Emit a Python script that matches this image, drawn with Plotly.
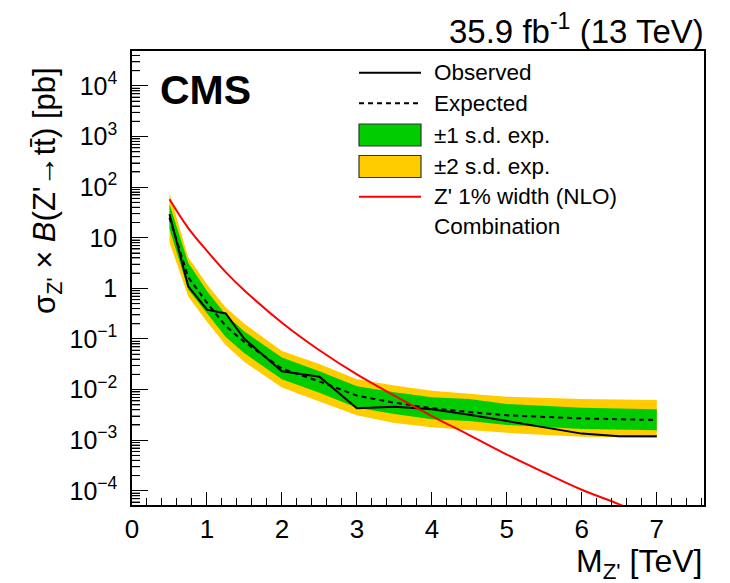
import math
import plotly.graph_objects as go

# ---------------- data ----------------
mass = [0.5, 0.75, 1.0, 1.25, 1.5, 2.0, 2.5, 3.0, 3.5, 4.0, 4.5, 5.0, 6.0, 6.5, 7.0]

observed = [29, 1.1, 0.38, 0.32, 0.10, 0.023, 0.018, 0.0043, 0.0046, 0.0041,
            0.0032, 0.0024, 0.00135, 0.0012, 0.0012]
expected = [25, 1.66, 0.52, 0.18, 0.087, 0.026, 0.0145, 0.0076, 0.0055, 0.0043,
            0.0036, 0.0031, 0.0027, 0.0026, 0.0025]
one_sd_lo = [15, 0.95, 0.32, 0.11, 0.052, 0.016, 0.0087, 0.0044, 0.0033, 0.0026,
             0.0024, 0.0020, 0.00166, 0.00162, 0.00158]
one_sd_hi = [46, 3.2, 0.89, 0.30, 0.14, 0.043, 0.023, 0.0117, 0.0089, 0.0071,
             0.0065, 0.0052, 0.0044, 0.0042, 0.0041]
two_sd_lo = [8.1, 0.69, 0.22, 0.076, 0.035, 0.011, 0.0058, 0.0031, 0.0022, 0.0018,
             0.0016, 0.0014, 0.00117, 0.00112, 0.0011]
two_sd_hi = [76, 4.1, 1.2, 0.42, 0.20, 0.058, 0.032, 0.016, 0.012, 0.0095,
             0.0083, 0.0072, 0.0065, 0.0063, 0.0062]

theory_mass = [0.5, 0.75, 1.0, 1.25, 1.5, 2.0, 2.5, 3.0, 3.5, 4.0, 4.5, 5.0, 5.5, 6.0, 6.5, 7.0]
theory_xsec = [57.5, 15.5, 5.5, 2.1, 0.91, 0.21, 0.060, 0.020, 0.0076, 0.0030,
               0.00126, 0.00052, 0.00023, 0.000105, 0.000054, 0.000025]

x_ticks = [0, 1, 2, 3, 4, 5, 6, 7]
y_tickvals = [1e-4, 1e-3, 1e-2, 1e-1, 1, 10, 1e2, 1e3, 1e4]
y_ticktext = ["10<sup>\u22124</sup>", "10<sup>\u22123</sup>", "10<sup>\u22122</sup>",
              "10<sup>\u22121</sup>", "1", "10", "10<sup>2</sup>", "10<sup>3</sup>",
              "10<sup>4</sup>"]
y_decades = [-5, -4, -3, -2, -1, 0, 1, 2, 3, 4]
minor_digits = [2, 3, 4, 5, 6, 7, 8, 9]

legend_labels = ["Observed", "Expected", "\u00b11 s.d. exp.", "\u00b12 s.d. exp.",
                 "Z' 1% width (NLO)", "Combination"]

GREEN = "#00CC00"
YELLOW = "#FFCC00"
RED = "#FF0000"
FONT = "Liberation Sans"
Y_RANGE = [-4.28, 4.69]

fig = go.Figure()

# yellow band
fig.add_trace(go.Scatter(x=mass + mass[::-1], y=two_sd_hi + two_sd_lo[::-1],
                         fill="toself", fillcolor=YELLOW, line=dict(width=0),
                         mode="lines", hoverinfo="skip", showlegend=False))
# green band
fig.add_trace(go.Scatter(x=mass + mass[::-1], y=one_sd_hi + one_sd_lo[::-1],
                         fill="toself", fillcolor=GREEN, line=dict(width=0),
                         mode="lines", hoverinfo="skip", showlegend=False))
# expected
fig.add_trace(go.Scatter(x=mass, y=expected, mode="lines",
                         line=dict(color="black", width=2, dash="5px,4px"),
                         showlegend=False))
# observed
fig.add_trace(go.Scatter(x=mass, y=observed, mode="lines",
                         line=dict(color="black", width=2), showlegend=False))
# theory
fig.add_trace(go.Scatter(x=theory_mass, y=theory_xsec, mode="lines",
                         line=dict(color=RED, width=2, shape="spline"),
                         showlegend=False))

# ---------------- layout ----------------
W, H = 730, 583
ml, mr, mt, mb = 132, 26, 51, 78
pw, ph = W - ml - mr, H - mt - mb


def px_x(p):
    return (p - ml) / pw


def px_y(p):
    return 1 - (p - mt) / ph


minor_vals = [d * 10.0 ** e for e in y_decades for d in minor_digits]

fig.update_layout(
    width=W, height=H,
    margin=dict(l=ml, r=mr, t=mt, b=mb, pad=0),
    paper_bgcolor="white", plot_bgcolor="white",
    font=dict(family=FONT, color="black", size=26),
    showlegend=False,
    xaxis=dict(
        range=[0, 7.63], showgrid=False, zeroline=False,
        showline=True, linecolor="black", linewidth=1.5, mirror=True,
        ticks="inside", ticklen=13, tickwidth=1, tickcolor="black",
        tickvals=x_ticks, ticktext=[str(v) for v in x_ticks],
        tickfont=dict(size=26, family=FONT),
        minor=dict(ticks="inside", ticklen=7, tickwidth=1, tickcolor="black",
                   dtick=0.2, tick0=0, showgrid=False),
    ),
    yaxis=dict(
        type="log", range=Y_RANGE, showgrid=False, zeroline=False,
        showline=True, linecolor="black", linewidth=1.5, mirror=True,
        ticks="inside", ticklen=16, tickwidth=1, tickcolor="black",
        tickvals=y_tickvals, ticktext=y_ticktext,
        tickfont=dict(size=25, family=FONT), ticklabelstandoff=8,
        minor=dict(ticks="inside", ticklen=8, tickwidth=1, tickcolor="black",
                   tickvals=minor_vals, showgrid=False),
    ),
)

shapes = []
# minor log ticks on the y axis (axis decoration, drawn as a fallback too)
for e in y_decades:
    for d in minor_digits:
        lv = math.log10(d * 10.0 ** e)
        if Y_RANGE[0] < lv < Y_RANGE[1]:
            yp = (lv - Y_RANGE[0]) / (Y_RANGE[1] - Y_RANGE[0])
            shapes.append(dict(type="line", xref="paper", yref="paper",
                               x0=0, x1=8 / pw, y0=yp, y1=yp,
                               line=dict(color="black", width=1)))

ann = []
# axis titles
ann.append(dict(text="M<sub>Z'</sub> [TeV]", xref="paper", yref="paper",
                x=px_x(704), y=px_y(563), xanchor="right", yanchor="middle",
                showarrow=False, font=dict(size=32, family=FONT)))
ann.append(dict(text="\u03c3<sub>Z'</sub> \u00d7 <i>B</i>(Z'\u2192tt\u0304) [pb]",
                xref="paper", yref="paper", x=px_x(47), y=px_y(191),
                xanchor="center", yanchor="middle", textangle=-90,
                showarrow=False, font=dict(size=31, family=FONT)))
# top-right lumi
ann.append(dict(text="35.9 fb<sup>-1</sup> (13 TeV)", xref="paper", yref="paper",
                x=px_x(706), y=px_y(29), xanchor="right", yanchor="middle",
                showarrow=False, font=dict(size=33, family=FONT)))
# CMS
ann.append(dict(text="<b>CMS</b>", xref="paper", yref="paper",
                x=px_x(158), y=px_y(90), xanchor="left", yanchor="middle",
                showarrow=False, font=dict(size=41, family=FONT)))

# legend
row_y = [72.7, 103.3, 135, 166.5, 196.7, 226.7]
lx0, lx1, tx = px_x(359), px_x(421), px_x(432)
shapes.append(dict(type="line", xref="paper", yref="paper", x0=lx0, x1=lx1,
                   y0=px_y(row_y[0]), y1=px_y(row_y[0]),
                   line=dict(color="black", width=2)))
shapes.append(dict(type="line", xref="paper", yref="paper", x0=lx0, x1=lx1,
                   y0=px_y(row_y[1]), y1=px_y(row_y[1]),
                   line=dict(color="black", width=2, dash="5px,4px")))
shapes.append(dict(type="rect", xref="paper", yref="paper", x0=lx0, x1=lx1,
                   y0=px_y(146), y1=px_y(124), fillcolor=GREEN,
                   line=dict(color="#333333", width=1.2)))
shapes.append(dict(type="rect", xref="paper", yref="paper", x0=lx0, x1=lx1,
                   y0=px_y(177.5), y1=px_y(155.5), fillcolor=YELLOW,
                   line=dict(color="#333333", width=1.2)))
shapes.append(dict(type="line", xref="paper", yref="paper", x0=lx0, x1=lx1,
                   y0=px_y(row_y[4]), y1=px_y(row_y[4]),
                   line=dict(color=RED, width=2)))
for lab, yy in zip(legend_labels, row_y):
    ann.append(dict(text=lab, xref="paper", yref="paper", x=tx, y=px_y(yy),
                    xanchor="left", yanchor="middle", showarrow=False,
                    font=dict(size=22.5, family=FONT)))

fig.update_layout(annotations=ann, shapes=shapes)

fig.write_html("out.html")
